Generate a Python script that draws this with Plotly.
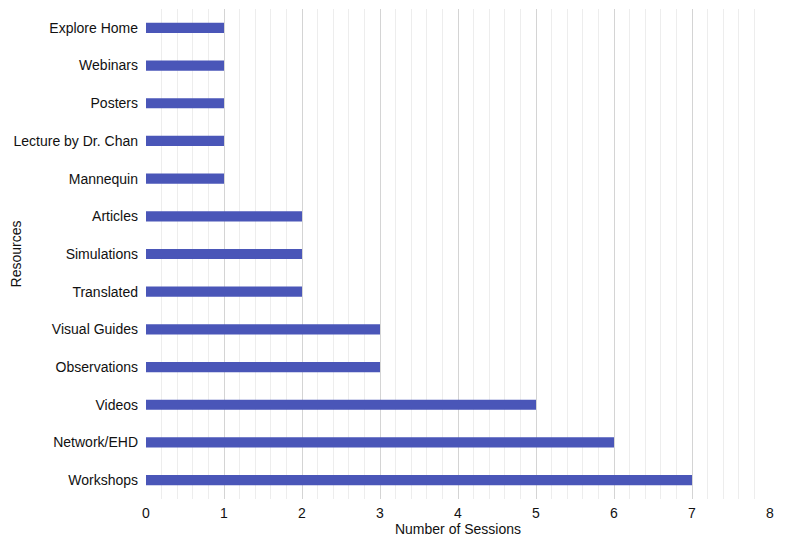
import plotly.graph_objects as go

resources = ["Workshops", "Network/EHD", "Videos", "Observations", "Visual Guides",
             "Translated", "Simulations", "Articles", "Mannequin", "Lecture by Dr. Chan",
             "Posters", "Webinars", "Explore Home"]
sessions = [7, 6, 5, 3, 3, 2, 2, 2, 1, 1, 1, 1, 1]

fig = go.Figure(go.Bar(
    x=sessions, y=resources, orientation="h",
    marker=dict(color="#4a56b8", line=dict(width=0)),
    width=0.27,
))

# page body has an 8px margin, so the figure is sized to fit the window
fig.update_layout(
    width=778, height=532,
    margin=dict(l=138, r=16, t=1, b=41),
    plot_bgcolor="white", paper_bgcolor="white",
    font=dict(family="Liberation Sans, Arial, sans-serif", size=14, color="#111"),
    showlegend=False,
    xaxis=dict(
        range=[0, 8], dtick=1, showgrid=True, gridcolor="#d4d4d4", gridwidth=1,
        zeroline=False, showline=False, automargin=False,
        ticks="", ticklabelstandoff=4,
        minor=dict(dtick=0.2, showgrid=True, gridcolor="#ededed"),
        title=dict(text="Number of Sessions", standoff=3, font=dict(size=14)),
        tickfont=dict(size=14),
    ),
    yaxis=dict(
        categoryorder="array", categoryarray=resources,
        showgrid=False, zeroline=False, showline=False, automargin=False,
        ticks="", ticklabelstandoff=7,
        title=dict(text="Resources", standoff=14, font=dict(size=14)),
        tickfont=dict(size=14),
    ),
)

fig.write_html("out.html")
